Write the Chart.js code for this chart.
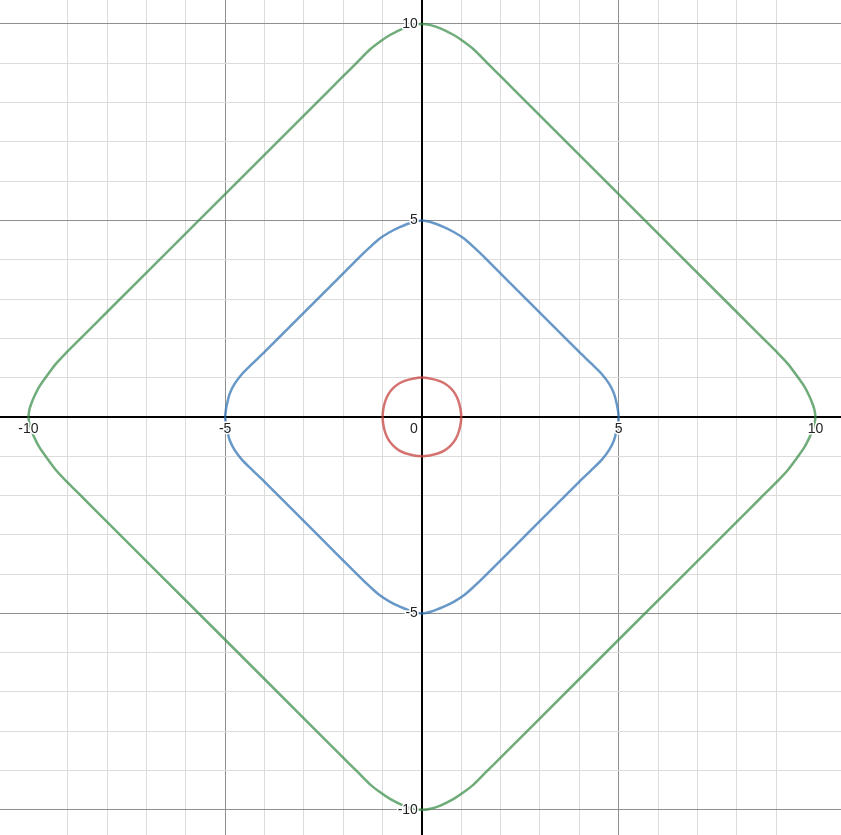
<!DOCTYPE html>
<html>
<head>
<meta charset="utf-8">
<script src="https://cdn.jsdelivr.net/npm/chart.js@4.4.1/dist/chart.umd.min.js"></script>
<style>
  html, body { margin: 0; padding: 0; background: #fff; }
  #wrap { width: 841px; height: 835px; }
</style>
</head>
<body>
<div id="wrap"><canvas id="graph"></canvas></div>
<script>
    // axis window
    var xRange = [-10.72, 10.65];
    var yRange = [-10.64, 10.61];
    var labelTicks = [-10, -5, 5, 10];

    // curve points, going round each loop
    var redPts = [
        [-1, 0], [-0.98, 0.2], [-0.93, 0.4], [-0.85, 0.58], [-0.73, 0.73], [-0.58, 0.85], [-0.4, 0.93], [-0.2, 0.98], [0, 1],
        [0.2, 0.98], [0.4, 0.93], [0.58, 0.85], [0.73, 0.73], [0.85, 0.58], [0.93, 0.4], [0.98, 0.2], [1, 0],
        [0.98, -0.2], [0.93, -0.4], [0.85, -0.58], [0.73, -0.73], [0.58, -0.85], [0.4, -0.93], [0.2, -0.98], [0, -1],
        [-0.2, -0.98], [-0.4, -0.93], [-0.58, -0.85], [-0.73, -0.73], [-0.85, -0.58], [-0.93, -0.4], [-0.98, -0.2], [-1, 0]
    ];

    var bluePts = [
        [-5, 0], [-4.98, 0.18], [-4.94, 0.38], [-4.88, 0.6], [-4.76, 0.84], [-4.58, 1.08], [-4.3, 1.36], [-3.99, 1.66],
        [-2.78, 2.87], [-1.58, 4.07], [-1.32, 4.32], [-1.07, 4.54], [-0.82, 4.7], [-0.56, 4.83], [-0.22, 4.96], [0, 5],
        [0.22, 4.96], [0.56, 4.83], [0.82, 4.7], [1.07, 4.54], [1.32, 4.32], [1.58, 4.07], [2.78, 2.87],
        [3.99, 1.66], [4.3, 1.36], [4.58, 1.08], [4.76, 0.84], [4.88, 0.6], [4.94, 0.38], [4.98, 0.18], [5, 0],
        [4.98, -0.18], [4.94, -0.38], [4.88, -0.6], [4.76, -0.84], [4.58, -1.08], [4.3, -1.36], [3.99, -1.66],
        [2.78, -2.87], [1.58, -4.07], [1.32, -4.32], [1.07, -4.54], [0.82, -4.7], [0.56, -4.83], [0.22, -4.96], [0, -5],
        [-0.22, -4.96], [-0.56, -4.83], [-0.82, -4.7], [-1.07, -4.54], [-1.32, -4.32], [-1.58, -4.07], [-2.78, -2.87],
        [-3.99, -1.66], [-4.3, -1.36], [-4.58, -1.08], [-4.76, -0.84], [-4.88, -0.6], [-4.94, -0.38], [-4.98, -0.18], [-5, 0]
    ];

    var greenPts = [
        [-10, 0], [-9.97, 0.2], [-9.92, 0.35], [-9.85, 0.52], [-9.72, 0.77], [-9.54, 1.03], [-9.3, 1.35], [-9.03, 1.64],
        [-8.6, 2.07], [-8.0, 2.67], [-5.33, 5.34], [-2.67, 8.0], [-2.07, 8.6],
        [-1.64, 9.03], [-1.32, 9.35], [-1.05, 9.56], [-0.81, 9.72], [-0.47, 9.89], [-0.22, 9.97], [0, 10],
        [0.22, 9.97], [0.47, 9.89], [0.81, 9.72], [1.05, 9.56], [1.32, 9.35], [1.64, 9.03],
        [2.07, 8.6], [2.67, 8.0], [5.33, 5.34], [8.0, 2.67], [8.6, 2.07],
        [9.03, 1.64], [9.3, 1.35], [9.54, 1.03], [9.72, 0.77], [9.85, 0.52], [9.92, 0.35], [9.97, 0.2], [10, 0],
        [9.97, -0.2], [9.92, -0.35], [9.85, -0.52], [9.72, -0.77], [9.54, -1.03], [9.3, -1.35], [9.03, -1.64],
        [8.6, -2.07], [8.0, -2.67], [5.33, -5.34], [2.67, -8.0], [2.07, -8.6],
        [1.64, -9.03], [1.32, -9.35], [1.05, -9.56], [0.81, -9.72], [0.47, -9.89], [0.22, -9.97], [0, -10],
        [-0.22, -9.97], [-0.47, -9.89], [-0.81, -9.72], [-1.05, -9.56], [-1.32, -9.35], [-1.64, -9.03],
        [-2.07, -8.6], [-2.67, -8.0], [-5.33, -5.34], [-8.0, -2.67], [-8.6, -2.07],
        [-9.03, -1.64], [-9.3, -1.35], [-9.54, -1.03], [-9.72, -0.77], [-9.85, -0.52], [-9.92, -0.35], [-9.97, -0.2], [-10, 0]
    ];

    function toXY(pts) {
        return pts.map(function (p) { return { x: p[0], y: p[1] }; });
    }

    // zero lines are drawn by the axes plugin so the grid can't cover them
    function gridColor(c) {
        var v = c.tick.value;
        if (v === 0) return 'rgba(0,0,0,0)';
        if (v % 5 === 0) return '#8f8f8f';
        return '#dcdcdc';
    }
    function keepWhole(scale) {
        scale.ticks = scale.ticks.filter(function (t) { return Number.isInteger(t.value); });
    }

    var zeroAxes = {
        id: 'zeroAxes',
        beforeDatasetsDraw: function (chart) {
            var c = chart.ctx, a = chart.chartArea;
            var x0 = Math.round(chart.scales.x.getPixelForValue(0));
            var y0 = Math.round(chart.scales.y.getPixelForValue(0));
            c.save();
            c.strokeStyle = '#000000';
            c.lineWidth = 2;
            c.beginPath();
            c.moveTo(a.left, y0);
            c.lineTo(a.right, y0);
            c.moveTo(x0, a.top);
            c.lineTo(x0, a.bottom);
            c.stroke();
            c.restore();
        }
    };

    // Desmos-style numbers next to the axes
    var axisLabels = {
        id: 'axisLabels',
        afterDraw: function (chart) {
            var c = chart.ctx, xs = chart.scales.x, ys = chart.scales.y;
            var x0 = xs.getPixelForValue(0), y0 = ys.getPixelForValue(0);
            c.save();
            c.font = '14px "Liberation Sans", Arial, sans-serif';
            c.lineWidth = 3;
            c.strokeStyle = '#ffffff';
            c.fillStyle = '#222222';
            c.lineJoin = 'round';
            c.textBaseline = 'middle';
            function put(txt, x, y) {
                c.strokeText(txt, x, y);
                c.fillText(txt, x, y);
            }
            c.textAlign = 'center';
            labelTicks.forEach(function (v) {
                put(String(v), xs.getPixelForValue(v), y0 + 12);
            });
            c.textAlign = 'right';
            labelTicks.forEach(function (v) {
                put(String(v), x0 - 4, ys.getPixelForValue(v));
            });
            put('0', x0 - 4, y0 + 12);
            c.restore();
        }
    };

    var ctx = document.getElementById('graph').getContext('2d');

    var lineStyle = { showLine: true, pointRadius: 0, borderWidth: 2.5, tension: 0.3, fill: false };

    new Chart(ctx, {
        type: 'scatter',
        data: {
            datasets: [
                Object.assign({ label: 'green', data: toXY(greenPts), borderColor: 'rgba(56,140,70,0.72)' }, lineStyle),
                Object.assign({ label: 'blue', data: toXY(bluePts), borderColor: 'rgba(45,112,179,0.72)' }, lineStyle),
                Object.assign({ label: 'red', data: toXY(redPts), borderColor: 'rgba(199,68,64,0.75)' }, lineStyle)
            ]
        },
        options: {
            responsive: true,
            maintainAspectRatio: false,
            animation: false,
            layout: { padding: 0 },
            plugins: {
                legend: { display: false },
                tooltip: { enabled: false }
            },
            scales: {
                x: {
                    type: 'linear',
                    min: xRange[0],
                    max: xRange[1],
                    afterBuildTicks: keepWhole,
                    ticks: { display: false, stepSize: 1 },
                    border: { display: false },
                    grid: { drawTicks: false, color: gridColor, lineWidth: 1 }
                },
                y: {
                    type: 'linear',
                    min: yRange[0],
                    max: yRange[1],
                    afterBuildTicks: keepWhole,
                    ticks: { display: false, stepSize: 1 },
                    border: { display: false },
                    grid: { drawTicks: false, color: gridColor, lineWidth: 1 }
                }
            }
        },
        plugins: [zeroAxes, axisLabels]
    });
</script>
</body>
</html>
